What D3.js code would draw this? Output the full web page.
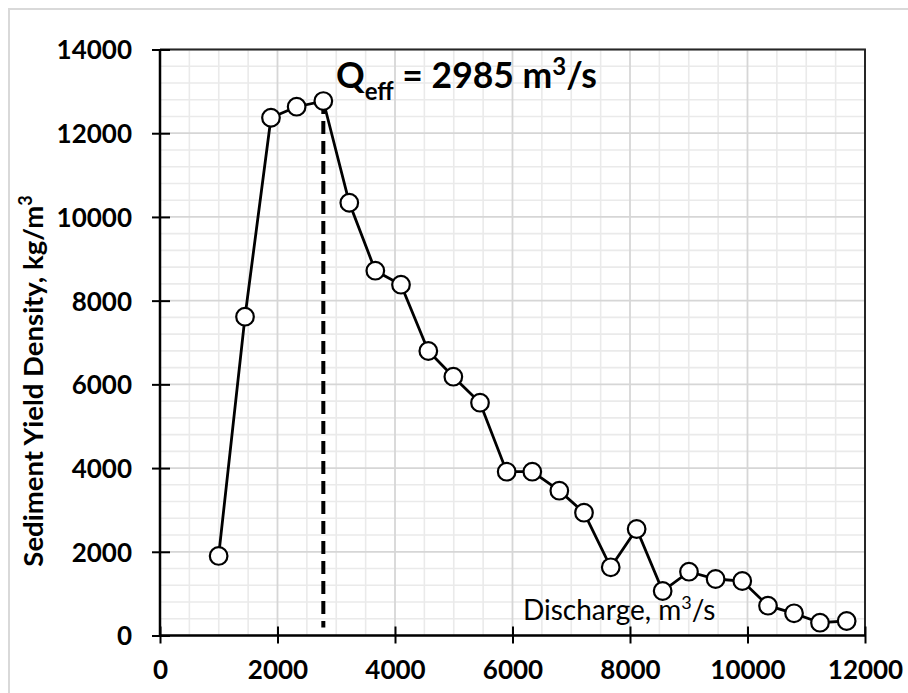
<!DOCTYPE html>
<html>
<head>
<meta charset="utf-8">
<script src="https://cdn.jsdelivr.net/npm/d3@7"></script>
<style>
  html, body { margin: 0; padding: 0; background: #fff; }
  svg { display: block; font-family: Lato, "Open Sans", sans-serif; }
</style>
</head>
<body>
<svg id="chart" width="908" height="693"></svg>
<script>
// ---- data ----
const discharge = [998, 1447, 1889, 2326, 2780, 3222, 3665, 4102, 4567, 4993, 5447, 5901, 6337, 6797, 7217, 7672, 8113, 8556, 9004, 9457, 9911, 10349, 10792, 11234, 11688];
const yieldDensity = [1900, 7616, 12370, 12633, 12769, 10339, 8715, 8381, 6797, 6183, 5562, 3913, 3913, 3459, 2934, 1629, 2544, 1063, 1524, 1350, 1302, 712, 530, 306, 346];
const xTicks = [0, 2000, 4000, 6000, 8000, 10000, 12000];
const yTicks = [0, 2000, 4000, 6000, 8000, 10000, 12000, 14000];
const xMinorStep = 500;
const yMinorStep = 400;
const effectiveDischarge = 2780;   // position of dashed marker line (at peak point)
const annotationValue = "2985";
const xLabel = "Discharge, m";
const yLabel = "Sediment Yield Density, kg/m";

const svg = d3.select("#chart");
const pLeft = 160, pRight = 865, pTop = 49.5, pBottom = 635.5;

const x = d3.scaleLinear().domain([0, 12000]).range([pLeft, pRight]);
const y = d3.scaleLinear().domain([0, 14000]).range([pBottom, pTop]);

// outer frame
svg.append("rect").attr("x", 9).attr("y", 9).attr("width", 920).attr("height", 720)
  .attr("fill", "none").attr("stroke", "#d9d9d9").attr("stroke-width", 2);

// minor grid
const xMinor = d3.range(0, 12000 + 1, xMinorStep).filter(v => v % 2000 !== 0);
const yMinor = d3.range(0, 14000 + 1, yMinorStep).filter(v => v % 2000 !== 0);
const g = svg.append("g");
g.selectAll(".xminor").data(xMinor).join("line")
  .attr("x1", d => x(d)).attr("x2", d => x(d)).attr("y1", pTop).attr("y2", pBottom)
  .attr("stroke", "#eaeaea").attr("stroke-width", 1.6);
g.selectAll(".yminor").data(yMinor).join("line")
  .attr("y1", d => y(d)).attr("y2", d => y(d)).attr("x1", pLeft).attr("x2", pRight)
  .attr("stroke", "#eaeaea").attr("stroke-width", 1.6);
// major grid
g.selectAll(".xmajor").data(xTicks).join("line")
  .attr("x1", d => x(d)).attr("x2", d => x(d)).attr("y1", pTop).attr("y2", pBottom)
  .attr("stroke", "#d6d6d6").attr("stroke-width", 1.8);
g.selectAll(".ymajor").data(yTicks).join("line")
  .attr("y1", d => y(d)).attr("y2", d => y(d)).attr("x1", pLeft).attr("x2", pRight)
  .attr("stroke", "#d6d6d6").attr("stroke-width", 1.8);

// top/right border of plot
svg.append("path")
  .attr("d", `M${pLeft},${pTop}H${pRight}V${pBottom}`)
  .attr("fill", "none").attr("stroke", "#262626").attr("stroke-width", 2);

// axes
const xAxis = d3.axisBottom(x).tickValues(xTicks).tickSize(0).tickPadding(0).tickFormat(d3.format("d"));
const yAxis = d3.axisLeft(y).tickValues(yTicks).tickSize(0).tickPadding(0).tickFormat(d3.format("d"));

const gx = svg.append("g").attr("transform", `translate(0,${pBottom})`).call(xAxis);
gx.select(".domain").remove();
gx.selectAll(".tick line").attr("y1", -9).attr("y2", 8).attr("stroke", "#000").attr("stroke-width", 2);
gx.selectAll(".tick text").attr("y", 43.5).attr("dy", 0)
  .attr("font-size", 26).attr("font-weight", 700).attr("fill", "#000")
  .attr("font-family", "Lato, sans-serif");

const gy = svg.append("g").attr("transform", `translate(${pLeft},0)`).call(yAxis);
gy.select(".domain").remove();
gy.selectAll(".tick line").attr("x1", -8).attr("x2", 10).attr("stroke", "#000").attr("stroke-width", 2);
gy.selectAll(".tick text").attr("x", -28).attr("dy", "0.36em")
  .attr("font-size", 26).attr("font-weight", 700).attr("fill", "#000")
  .attr("font-family", "Lato, sans-serif");

// axis lines
svg.append("line").attr("x1", pLeft).attr("x2", pLeft).attr("y1", pTop).attr("y2", pBottom + 1)
  .attr("stroke", "#000").attr("stroke-width", 2.5);
svg.append("line").attr("x1", pLeft - 1).attr("x2", pRight).attr("y1", pBottom).attr("y2", pBottom)
  .attr("stroke", "#000").attr("stroke-width", 2.5);

// dashed effective discharge line
const peakIdx = discharge.indexOf(effectiveDischarge);
svg.append("line")
  .attr("x1", x(effectiveDischarge)).attr("x2", x(effectiveDischarge))
  .attr("y1", y(yieldDensity[peakIdx])).attr("y2", y(0) - 8)
  .attr("stroke", "#000").attr("stroke-width", 4).attr("stroke-dasharray", "13,7");

// series line
const pts = discharge.map((d, i) => [d, yieldDensity[i]]);
svg.append("path").datum(pts)
  .attr("d", d3.line().x(d => x(d[0])).y(d => y(d[1])))
  .attr("fill", "none").attr("stroke", "#000").attr("stroke-width", 2.8);

svg.selectAll(".pt").data(pts).join("circle")
  .attr("cx", d => x(d[0])).attr("cy", d => y(d[1])).attr("r", 8.8)
  .attr("fill", "#fff").attr("stroke", "#000").attr("stroke-width", 2.2);

// annotation
const ann = svg.append("text").attr("x", 336).attr("y", 88)
  .attr("font-size", 35.5).attr("font-weight", 700).attr("fill", "#000");
ann.append("tspan").text("Q");
ann.append("tspan").attr("font-size", 24).attr("dy", 12).text("eff");
ann.append("tspan").attr("dy", -12).text(` = ${annotationValue} m`);
ann.append("tspan").attr("font-size", 24).attr("dy", -13).text("3");
ann.append("tspan").attr("dy", 13).text("/s");

// x axis title (inside plot)
const xt = svg.append("text").attr("x", 523).attr("y", 620)
  .attr("font-size", 28).attr("font-weight", 400).attr("fill", "#000");
xt.append("tspan").text(xLabel);
xt.append("tspan").attr("font-size", 18).attr("dy", -11).text("3");
xt.append("tspan").attr("dy", 11).text("/s");

// y axis title
const yt = svg.append("text")
  .attr("transform", `translate(43,381) rotate(-90)`)
  .attr("text-anchor", "middle")
  .attr("font-size", 27.5).attr("font-weight", 700).attr("fill", "#000");
yt.append("tspan").text(yLabel);
yt.append("tspan").attr("font-size", 18).attr("dy", -11).text("3");
</script>
</body>
</html>
